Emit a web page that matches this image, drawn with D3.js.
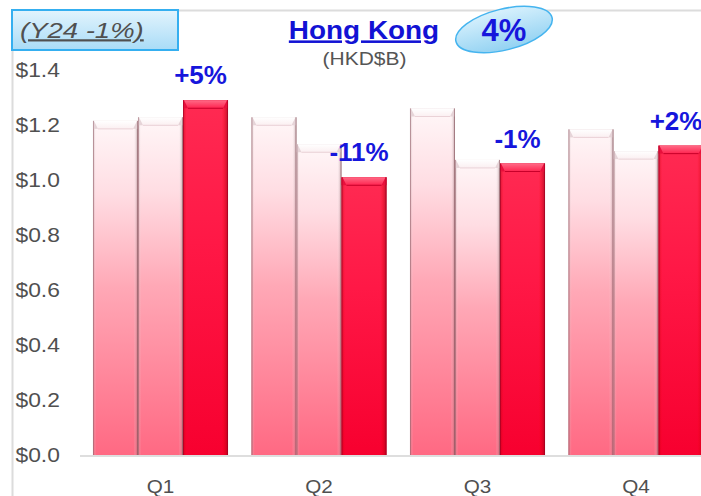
<!DOCTYPE html>
<html>
<head>
<meta charset="utf-8">
<script src="https://cdn.jsdelivr.net/npm/d3@7"></script>
<style>
  html, body { margin: 0; padding: 0; background: #ffffff; }
  svg { display: block; }
  text { font-family: "Liberation Sans", Arial, sans-serif; }
</style>
</head>
<body>
<svg id="chart" width="701" height="496"></svg>
<script>
// Quarterly sales, Hong Kong (HKD$B)
const quarters = ["Q1", "Q2", "Q3", "Q4"];
const seriesKeys = ["Y23", "Y24", "Y25"];
const salesY23 = [1.215, 1.228, 1.26, 1.184];
const salesY24 = [1.228, 1.13, 1.073, 1.105];
const salesY25 = [1.29, 1.01, 1.06, 1.125];
const growthLabels = ["+5%", "-11%", "-1%", "+2%"];
const yTicks = [0, 0.2, 0.4, 0.6, 0.8, 1.0, 1.2, 1.4];
const titleText = "Hong Kong";
const unitText = "(HKD$B)";
const yearNote = "(Y24 -1%)";
const totalGrowth = "4%";

const W = 701, H = 496;
const svg = d3.select("#chart");
const defs = svg.append("defs");

const rows = quarters.map((q, i) => ({
  quarter: q,
  values: [salesY23[i], salesY24[i], salesY25[i]],
  growth: growthLabels[i]
}));

const y = d3.scaleLinear().domain([0, 1.4]).range([455, 70]);
const x = d3.scaleBand().domain(quarters).range([81.25, 715.25])
  .paddingInner(0.148).paddingOuter(0.074);
const xs = d3.scaleBand().domain(seriesKeys).range([0, x.bandwidth()]).padding(0);

// gradients
function vGrad(id, stops) {
  const g = defs.append("linearGradient").attr("id", id)
    .attr("x1", 0).attr("y1", 0).attr("x2", 0).attr("y2", 1);
  stops.forEach(([o, c, a]) => g.append("stop").attr("offset", o)
    .attr("stop-color", c).attr("stop-opacity", a == null ? 1 : a));
}
function hGrad(id, stops) {
  const g = defs.append("linearGradient").attr("id", id)
    .attr("x1", 0).attr("y1", 0).attr("x2", 1).attr("y2", 0);
  stops.forEach(([o, c, a]) => g.append("stop").attr("offset", o)
    .attr("stop-color", c).attr("stop-opacity", a == null ? 1 : a));
}
vGrad("pinkFill", [[0, "#fff7f8"], [0.22, "#ffdde3"], [0.5, "#ffa8b6"], [1, "#ff6983"]]);
vGrad("redFill", [[0, "#ff2a52"], [0.4, "#ff1846"], [1, "#f7002f"]]);
hGrad("pinkEdge", [[0, "#8a5a62", 0.45], [0.07, "#ffffff", 0], [0.9, "#ffffff", 0], [1, "#7a4a52", 0.5]]);
hGrad("redEdge", [[0, "#8a0018", 0.45], [0.08, "#ff0000", 0], [0.86, "#ff0000", 0], [1, "#8a0018", 0.6]]);
vGrad("pinkCap", [[0, "#ffffff"], [1, "#fbeff1"]]);
vGrad("redCap", [[0, "#ff6a86"], [1, "#ff2450"]]);
vGrad("noteBox", [[0, "#e3f4fd"], [1, "#a9dcf7"]]);
vGrad("ovalFill", [[0, "#d8f1fd"], [1, "#93d2f2"]]);

// frame
svg.append("line").attr("x1", 13).attr("x2", W).attr("y1", 10.5).attr("y2", 10.5)
  .attr("stroke", "#dcdcdc").attr("stroke-width", 2);
svg.append("line").attr("x1", 12.5).attr("x2", 12.5).attr("y1", 10).attr("y2", H)
  .attr("stroke", "#dcdcdc").attr("stroke-width", 2);

// baseline
svg.append("line").attr("x1", 80).attr("x2", W).attr("y1", y(0) + 1).attr("y2", y(0) + 1)
  .attr("stroke", "#dedede").attr("stroke-width", 2);

// stretched text helper
function stext(sel, str, cx, cy, opts) {
  const t = sel.append("text")
    .attr("transform", `translate(${cx},${cy}) scale(${opts.sx || 1},1)`)
    .attr("text-anchor", opts.anchor || "middle")
    .attr("font-size", opts.size)
    .attr("font-weight", opts.weight || "normal")
    .attr("font-style", opts.style || "normal")
    .attr("fill", opts.fill)
    .text(str);
  if (opts.underline) t.attr("text-decoration", "underline");
  return t;
}

// y tick labels
const yAxis = svg.append("g").attr("class", "y-axis");
yTicks.forEach(v => {
  stext(yAxis, "$" + d3.format(".1f")(v), 15.5, y(v) + 7,
    { size: 19.5, fill: "#505050", anchor: "start", sx: 1.17 });
});

// x axis labels
const xAxis = svg.append("g").attr("class", "x-axis");
quarters.forEach(q => {
  stext(xAxis, q, x(q) + x.bandwidth() / 2, 493, { size: 18.8, fill: "#505050", sx: 1.1 });
});

// bars
const groups = svg.append("g").selectAll("g.grp").data(rows).join("g")
  .attr("class", "grp")
  .attr("transform", d => `translate(${x(d.quarter)},0)`);

groups.each(function(d) {
  const g = d3.select(this);
  d.values.forEach((v, k) => {
    const key = seriesKeys[k];
    const bx = xs(key), bw = xs.bandwidth();
    const top = y(v), bh = y(0) - y(v);
    const isCur = k === 2;
    g.append("rect").attr("x", bx).attr("y", top).attr("width", bw).attr("height", bh)
      .attr("fill", isCur ? "url(#redFill)" : "url(#pinkFill)");
    g.append("rect").attr("x", bx).attr("y", top).attr("width", bw).attr("height", bh)
      .attr("fill", isCur ? "url(#redEdge)" : "url(#pinkEdge)");
    // bevelled cap
    const cap = 8, ins = 5;
    g.append("rect").attr("x", bx).attr("y", top).attr("width", bw).attr("height", cap)
      .attr("fill", isCur ? "#e8103c" : "#e6d4d8");
    g.append("polygon")
      .attr("points", [[bx + 1, top], [bx + bw - 1, top], [bx + bw - ins, top + cap], [bx + ins, top + cap]]
        .map(p => p.join(",")).join(" "))
      .attr("fill", isCur ? "url(#redCap)" : "url(#pinkCap)");
    g.append("line").attr("x1", bx + ins).attr("x2", bx + bw - ins)
      .attr("y1", top + cap).attr("y2", top + cap)
      .attr("stroke", isCur ? "#c8002a" : "#ead2d7").attr("stroke-width", 1);
    // side edges
    g.append("line").attr("x1", bx + 0.5).attr("x2", bx + 0.5).attr("y1", top).attr("y2", y(0))
      .attr("stroke", isCur ? "#9c0020" : "#9a6a72").attr("stroke-opacity", 0.55);
    g.append("line").attr("x1", bx + bw - 0.5).attr("x2", bx + bw - 0.5).attr("y1", top).attr("y2", y(0))
      .attr("stroke", isCur ? "#9c0020" : "#8a5a62").attr("stroke-opacity", 0.6);
  });
  // growth label over the current-year bar
  const cx = xs(seriesKeys[2]) + xs.bandwidth() / 2 - 5;
  stext(g, d.growth, cx, y(d.values[2]) - 16, { size: 25, weight: "bold", fill: "#1616dc", sx: 1.04 });
});

// title and unit
stext(svg, titleText, 364, 38.5, { size: 25.5, weight: "bold", fill: "#1212d4", sx: 1.095, underline: true });
stext(svg, unitText, 364.5, 65, { size: 17.5, fill: "#555555", sx: 1.2 });

// prior-year note box
svg.append("rect").attr("x", 12).attr("y", 10).attr("width", 166).attr("height", 40)
  .attr("fill", "url(#noteBox)").attr("stroke", "#35aff0").attr("stroke-width", 2);
stext(svg, yearNote, 20, 37.5, { size: 22, style: "italic", fill: "#505050", anchor: "start", sx: 1.25, underline: true });

// total growth oval
const oval = svg.append("g").attr("transform", "translate(504,29.5)");
oval.append("ellipse").attr("rx", 49.5).attr("ry", 20.5).attr("transform", "rotate(-14)")
  .attr("fill", "url(#ovalFill)").attr("stroke", "#45b4ef").attr("stroke-width", 1.5);
stext(oval, totalGrowth, 0, 11.5, { size: 31, weight: "bold", fill: "#1616dc" });
</script>
</body>
</html>
